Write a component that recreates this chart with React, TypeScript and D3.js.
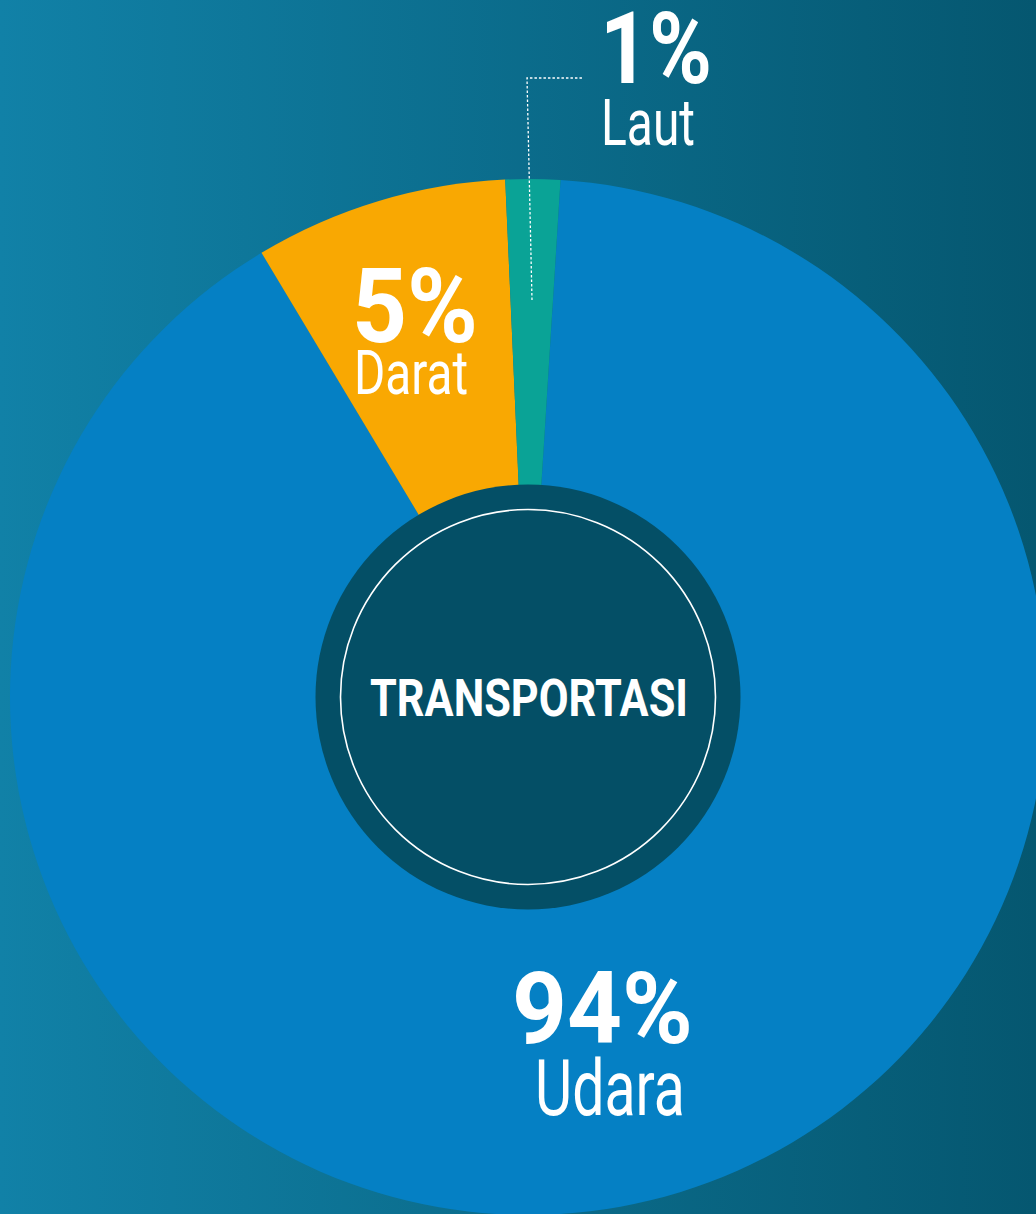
import { useEffect, useRef } from 'react';
import * as d3 from 'd3';

// data (drawn shares differ slightly from printed labels)
const categories = ['Udara', 'Darat', 'Laut'];
const drawnShare = [90.4, 7.9, 1.7];
const percentLabels = ['94%', '5%', '1%'];
const sliceColors = ['#0580c4', '#f9a802', '#0aa396'];
const centerTitle = 'TRANSPORTASI';

const W = 1036;
const H = 1214;

export default function App() {
  const svgRef = useRef<SVGSVGElement>(null);

  useEffect(() => {
    if (!svgRef.current) return;
    const svg = d3.select(svgRef.current);
    svg.selectAll('*').remove();

    const cx = 528;
    const cy = 697;
    const outerR = 518;
    const holeR = 212.5;
    const ringR = 187.5;
    const font = 'Roboto, "Noto Sans", sans-serif';

    // background gradient
    const defs = svg.append('defs');
    const grad = defs
      .append('linearGradient')
      .attr('id', 'bg')
      .attr('x1', '0%')
      .attr('x2', '100%')
      .attr('y1', '0%')
      .attr('y2', '0%');
    grad.append('stop').attr('offset', '0%').attr('stop-color', '#1181a7');
    grad.append('stop').attr('offset', '100%').attr('stop-color', '#055770');
    svg.append('rect').attr('width', W).attr('height', H).attr('fill', 'url(#bg)');

    const g = svg.append('g').attr('transform', `translate(${cx},${cy})`);

    const start = (3.6 * Math.PI) / 180;
    const pie = d3
      .pie<number>()
      .sort(null)
      .startAngle(start)
      .endAngle(start + Math.PI * 2)
      .value((d) => d);
    const arcs = pie(drawnShare);
    const arc = d3.arc<d3.PieArcDatum<number>>().innerRadius(0).outerRadius(outerR);

    g.selectAll('path.slice')
      .data(arcs)
      .join('path')
      .attr('class', 'slice')
      .attr('d', arc)
      .attr('fill', (_d, i) => sliceColors[i]);

    // centre disc
    g.append('circle').attr('r', holeR).attr('fill', '#044f66');
    g.append('circle')
      .attr('r', ringR)
      .attr('fill', 'none')
      .attr('stroke', '#ffffff')
      .attr('stroke-width', 1.6);

    g.append('text')
      .attr('x', -158)
      .attr('y', 19)
      .attr('textLength', 318)
      .attr('lengthAdjust', 'spacingAndGlyphs')
      .attr('font-family', font)
      .attr('font-weight', 700)
      .attr('font-size', 52)
      .attr('fill', '#fff')
      .text(centerTitle);

    // leader for the thin slice
    svg
      .append('path')
      .attr('d', 'M532,300 L527,78 L582,78')
      .attr('fill', 'none')
      .attr('stroke', '#ffffff')
      .attr('stroke-width', 1.3)
      .attr('stroke-dasharray', '2.5,2');

    // labels: [x, baseline pct, width pct, baseline name, width name, pct size, name size]
    const labelLayout: Record<string, number[]> = {
      Udara: [512, 1043, 181, 535, 1115, 150, 100, 77],
      Darat: [352, 342, 126, 354, 394, 114, 104, 62],
      Laut: [600, 83, 112, 601, 145, 94, 100, 64],
    };

    categories.forEach((cat, i) => {
      const [px, py, pw, nx, ny, nw, ps, ns] = labelLayout[cat];
      svg
        .append('text')
        .attr('x', px)
        .attr('y', py)
        .attr('textLength', pw)
        .attr('lengthAdjust', 'spacingAndGlyphs')
        .attr('font-family', font)
        .attr('font-weight', 700)
        .attr('font-size', ps)
        .attr('fill', '#fff')
        .text(percentLabels[i]);
      svg
        .append('text')
        .attr('x', nx)
        .attr('y', ny)
        .attr('textLength', nw)
        .attr('lengthAdjust', 'spacingAndGlyphs')
        .attr('font-family', font)
        .attr('font-weight', 400)
        .attr('font-size', ns)
        .attr('fill', '#fff')
        .text(cat);
    });
  }, []);

  return (
    <svg
      ref={svgRef}
      width={W}
      height={H}
      style={{ position: 'absolute', left: 0, top: 0, display: 'block' }}
    />
  );
}
